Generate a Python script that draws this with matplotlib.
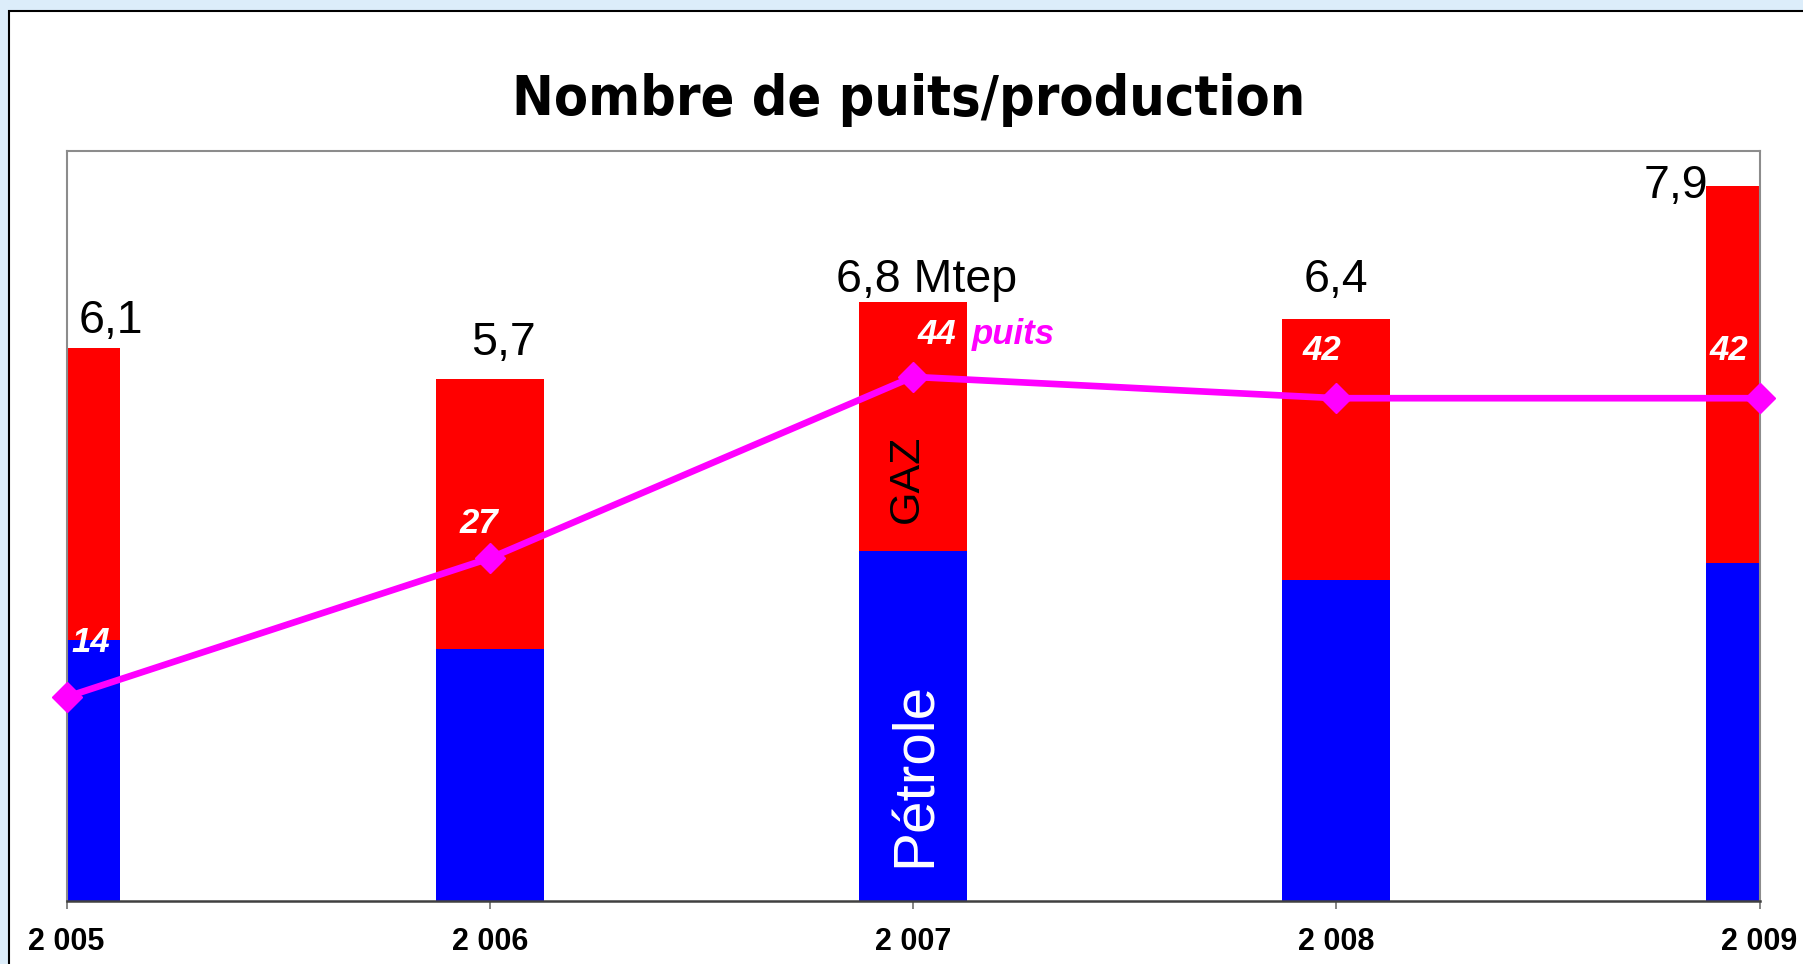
import matplotlib
matplotlib.use("Agg")
import matplotlib.pyplot as plt
from matplotlib import font_manager
from matplotlib.patches import Rectangle

# ── Data ─────────────────────────────────────────────────────────────────────

years = ["2 005", "2 006", "2 007", "2 008", "2 009"]
petrole = [2.88, 2.78, 3.86, 3.54, 3.73]   # Mtep
gaz = [3.23, 2.99, 2.76, 2.89, 4.17]       # Mtep
total_labels = ["6,1", "5,7", "6,8 Mtep", "6,4", "7,9"]
puits = [14, 27, 44, 42, 42]

# label offsets in pixels (dx, dy) from the anchor point
total_offsets = [(44, 15), (14, 24), (14, 10), (0, 27), (-84, -12)]
puits_offsets = [(24, 45), (-11, 25), (24, 33), (-14, 38), (-31, 38)]

BLUE, RED, MAGENTA = "#0000ff", "#ff0000", "#ff00ff"
ARIAL = ["Liberation Sans", "DejaVu Sans"]

# pick a condensed face for the title if one is installed
fonts = font_manager.fontManager.ttflist
condensed = [f for f in fonts if "Condensed" in f.fname or "Narrow" in f.fname]
if any(f.name == "Liberation Sans Narrow" for f in condensed):
    title_font = dict(fontfamily=["Liberation Sans Narrow"], fontsize=48)
elif any("DejaVuSansCondensed" in f.fname for f in condensed):
    title_font = dict(fontfamily=["DejaVu Sans"], fontstretch="condensed", fontsize=40)
else:
    title_font = dict(fontfamily=ARIAL, fontsize=42)

# ── Figure ───────────────────────────────────────────────────────────────────

fig = plt.figure(figsize=(18.03, 9.64), dpi=100)
fig.patch.set_facecolor("#dcedfa")
fig.add_artist(Rectangle((9 / 1803, -0.01), 1.0, 1.01 - 11.5 / 964,
                         transform=fig.transFigure, fc="white", ec="black",
                         lw=1.5, zorder=-10))

ax = fig.add_axes([66.5 / 1803, 63.3 / 964, 1693 / 1803, 750 / 964])
ax.set_facecolor("white")
x = list(range(len(years)))
w = 0.255
ax.bar(x, petrole, width=w, color=BLUE, zorder=2)
ax.bar(x, gaz, width=w, bottom=petrole, color=RED, zorder=2)
ax.set_xlim(0, 4)
ax.set_ylim(0, 8.29)
ax.set_yticks([])
ax.set_xticks(x)
ax.set_xticklabels(years, fontfamily=ARIAL, fontweight="bold", fontsize=22)
ax.tick_params(axis="x", length=6, width=1.2, color="#707070", pad=13)
for side in ["top", "left", "right"]:
    ax.spines[side].set_color("#8c8c8c")
    ax.spines[side].set_linewidth(1.5)
ax.spines["bottom"].set_color("#404040")
ax.spines["bottom"].set_linewidth(1.8)

# totals above bars
for xi, p, g, lab, (dx, dy) in zip(x, petrole, gaz, total_labels, total_offsets):
    ax.annotate(lab, (xi, p + g), xytext=(dx, dy), textcoords="offset pixels",
                ha="center", va="baseline", fontsize=33.5, fontfamily=ARIAL,
                color="black", annotation_clip=False, zorder=5)

# segment names inside the 2007 bar
ax.annotate("GAZ", (2, petrole[2] + gaz[2] / 2), xytext=(-6, -52),
            textcoords="offset pixels", ha="center", va="center", rotation=90,
            fontsize=31, fontfamily=ARIAL, color="black", zorder=5)
ax.annotate("Pétrole", (2, petrole[2] / 2), xytext=(3, -48),
            textcoords="offset pixels", ha="center", va="center", rotation=90,
            fontsize=42, fontfamily=ARIAL, color="white", zorder=5)

# number of wells on secondary axis
ax2 = ax.twinx()
ax2.set_ylim(-5.1, 65.2)
ax2.set_yticks([])
for s in ax2.spines.values():
    s.set_visible(False)
ax2.plot(x, puits, color=MAGENTA, lw=4.8, marker="D", ms=15,
         mec=MAGENTA, mfc=MAGENTA, clip_on=False, zorder=4)
for xi, v, (dx, dy) in zip(x, puits, puits_offsets):
    ax2.annotate(str(v), (xi, v), xytext=(dx, dy), textcoords="offset pixels",
                 ha="center", va="baseline", fontsize=25, fontfamily=ARIAL,
                 fontweight="bold", fontstyle="italic", color="white",
                 annotation_clip=False, zorder=6)
ax2.annotate("puits", (2, puits[2]), xytext=(59, 33), textcoords="offset pixels",
             ha="left", va="baseline", fontsize=25, fontfamily=ARIAL,
             fontweight="bold", fontstyle="italic", color=MAGENTA, zorder=6)

fig.text(909 / 1803, 1 - 100 / 964, "Nombre de puits/production", ha="center",
         va="center", fontweight="bold", **title_font)

fig.savefig("out.png", dpi=100, facecolor=fig.get_facecolor())
